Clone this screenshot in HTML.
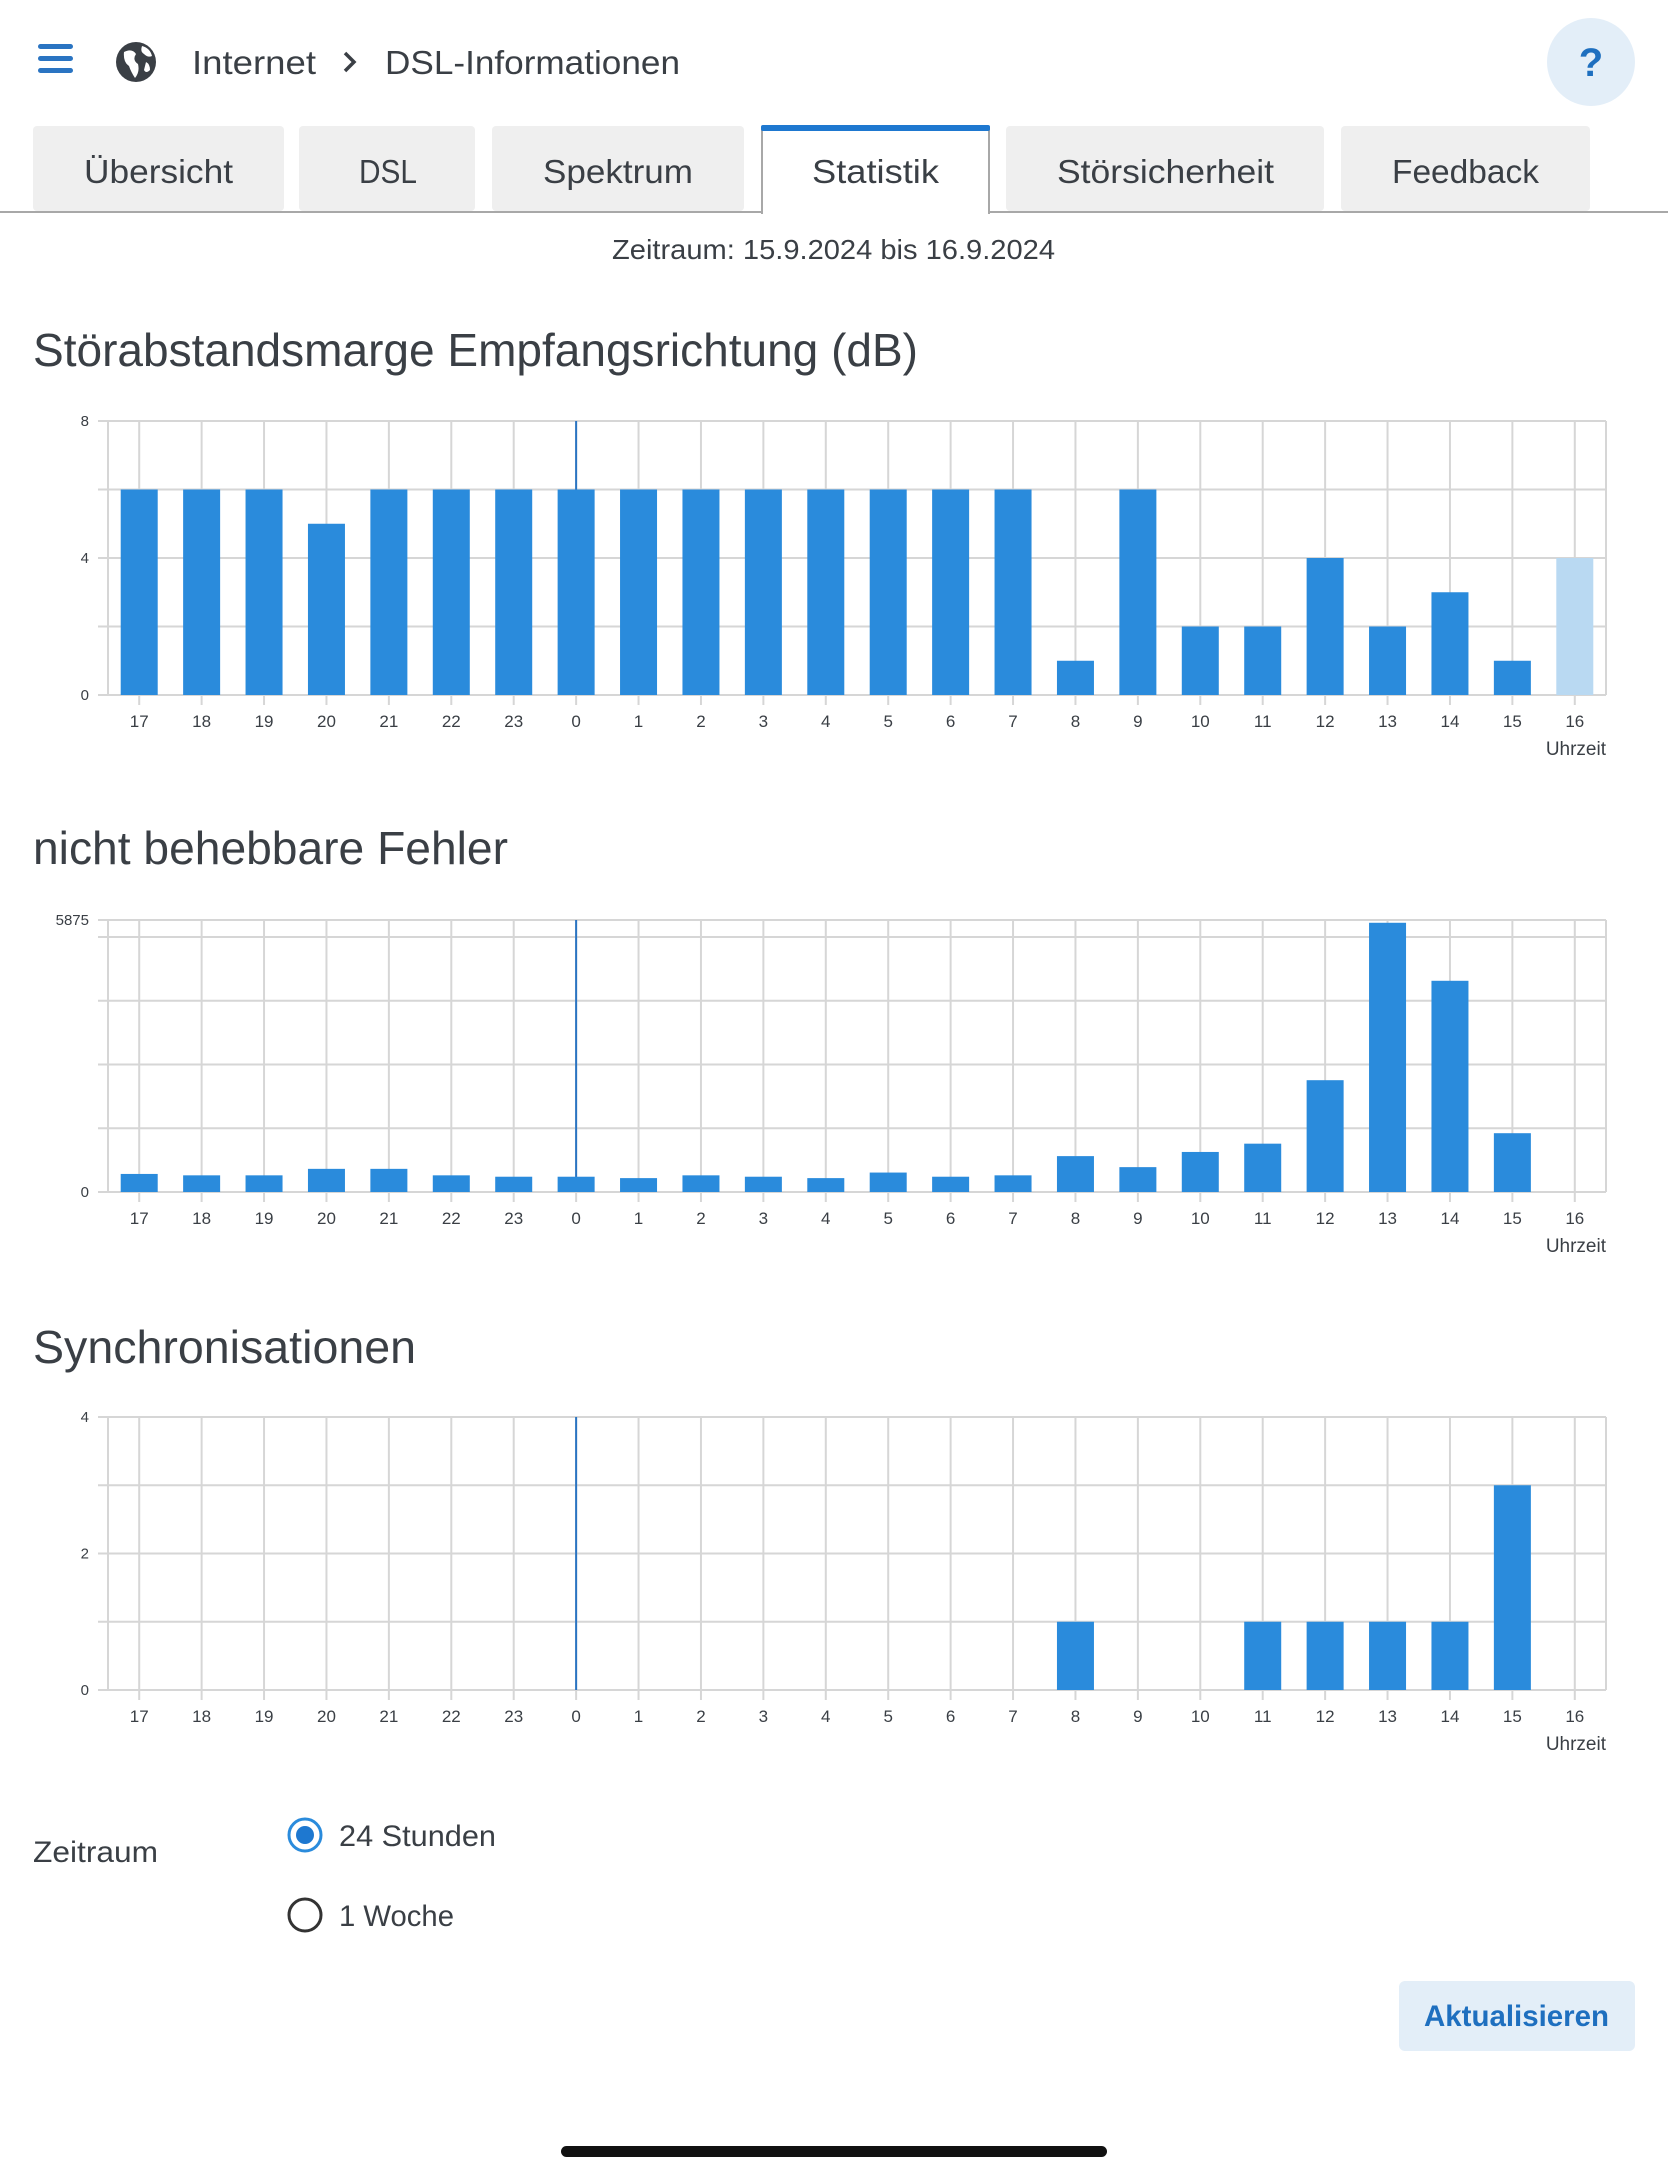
<!DOCTYPE html>
<html><head><meta charset="utf-8"><style>
html,body{margin:0;padding:0;background:#fff;}
svg{display:block;font-family:"Liberation Sans",sans-serif;}
</style></head><body>
<svg id="root" width="1668" height="2172" viewBox="0 0 1668 2172" xmlns="http://www.w3.org/2000/svg">
<g>
 <g fill="#2a74c2">
  <rect x="38" y="44" width="35" height="5" rx="2.5"/><rect x="38" y="56" width="35" height="5" rx="2.5"/><rect x="38" y="68" width="35" height="5" rx="2.5"/>
 </g>
 <g>
  <circle cx="136" cy="62" r="20" fill="#3a3f45"/>
  <path d="M124 52 q8 -4 12 2 q-4 6 2 10 q2 8 -3 14 q-4 -6 -6 -12 q-6 -4 -5 -14z M142 46 q8 2 10 10 q-4 2 -8 -2 q-4 -2 -2 -8z M146 62 q4 2 4 8 q-4 4 -6 0z" fill="#fff"/>
 </g>
 <text x="192" y="74" font-size="33" fill="#3a3f45" textLength="124" lengthAdjust="spacingAndGlyphs">Internet</text>
 <path d="M345 53 L354 62 L345 71" fill="none" stroke="#3a3f45" stroke-width="3.5"/>
 <text x="385" y="74" font-size="33" fill="#3a3f45" textLength="295" lengthAdjust="spacingAndGlyphs">DSL-Informationen</text>
 <g>
  <circle cx="1591" cy="62" r="44" fill="#e3eef8"/>
  <text x="1591" y="76" font-size="40" font-weight="bold" fill="#1e6fbf" text-anchor="middle">?</text>
 </g>
</g>
<g font-size="33" fill="#3a3f45">
 <rect x="0" y="211" width="1668" height="2" fill="#a8a8a8"/>
 <g><rect x="33" y="126" width="251" height="85" rx="4" fill="#efefef"/><text x="84" y="183" textLength="149" lengthAdjust="spacingAndGlyphs">Übersicht</text></g>
 <g><rect x="299" y="126" width="176" height="85" rx="4" fill="#efefef"/><text x="359" y="183" textLength="58" lengthAdjust="spacingAndGlyphs">DSL</text></g>
 <g><rect x="492" y="126" width="252" height="85" rx="4" fill="#efefef"/><text x="543" y="183" textLength="150" lengthAdjust="spacingAndGlyphs">Spektrum</text></g>
 <g><path d="M762 214 V128 H989 V214" fill="#fff" stroke="#a8a8a8" stroke-width="2"/><rect x="761" y="125" width="229" height="6" rx="2" fill="#1e78d0"/><text x="812" y="183" textLength="127" lengthAdjust="spacingAndGlyphs">Statistik</text></g>
 <g><rect x="1006" y="126" width="318" height="85" rx="4" fill="#efefef"/><text x="1057" y="183" textLength="217" lengthAdjust="spacingAndGlyphs">Störsicherheit</text></g>
 <g><rect x="1341" y="126" width="249" height="85" rx="4" fill="#efefef"/><text x="1392" y="183" textLength="147" lengthAdjust="spacingAndGlyphs">Feedback</text></g>
</g>
<text x="612" y="259" font-size="28" fill="#3a3f45" textLength="443" lengthAdjust="spacingAndGlyphs">Zeitraum: 15.9.2024 bis 16.9.2024</text>
<text x="33" y="366" font-size="46" fill="#3a3f45" textLength="885" lengthAdjust="spacingAndGlyphs">Störabstandsmarge Empfangsrichtung (dB)</text>
<text x="33" y="864" font-size="46" fill="#3a3f45" textLength="475" lengthAdjust="spacingAndGlyphs">nicht behebbare Fehler</text>
<text x="33" y="1363" font-size="46" fill="#3a3f45" textLength="383" lengthAdjust="spacingAndGlyphs">Synchronisationen</text>
<g id="charts"></g>
<g font-size="30" fill="#3a3f45">
 <text x="33" y="1862" textLength="125" lengthAdjust="spacingAndGlyphs">Zeitraum</text>
 <g>
  <circle cx="305" cy="1835" r="16" fill="#fff" stroke="#2a8bdc" stroke-width="3"/><circle cx="305" cy="1835" r="9" fill="#1e78d0"/>
  <text x="339" y="1846" textLength="157" lengthAdjust="spacingAndGlyphs">24 Stunden</text>
 </g>
 <g>
  <circle cx="305" cy="1915" r="16" fill="#fff" stroke="#333" stroke-width="3"/>
  <text x="339" y="1926" textLength="115" lengthAdjust="spacingAndGlyphs">1 Woche</text>
 </g>
</g>
<g>
 <rect x="1399" y="1981" width="236" height="70" rx="6" fill="#e3eef8"/>
 <text x="1424" y="2026" font-size="30" font-weight="bold" fill="#1e6fbf" textLength="185" lengthAdjust="spacingAndGlyphs">Aktualisieren</text>
</g>
<rect x="561" y="2146" width="546" height="11" rx="5.5" fill="#111"/>
</svg>
<script>
const categories = ["17","18","19","20","21","22","23","0","1","2","3","4","5","6","7","8","9","10","11","12","13","14","15","16"];
const snrValues = [6,6,6,5,6,6,6,6,6,6,6,6,6,6,6,1,6,2,2,4,2,3,1,4];
const snrTicks = [0,4,8];
const errorValues = [390,360,360,500,500,360,330,330,300,360,330,300,420,330,360,775,537,865,1044,2415,5815,4562,1270,0];
const errorTicks = [0,5875];
const syncValues = [0,0,0,0,0,0,0,0,0,0,0,0,0,0,0,1,0,0,1,1,1,1,3,0];
const syncTicks = [0,2,4];

const NS = "http://www.w3.org/2000/svg";
const charts = document.getElementById('charts');
function mk(tag, attrs, parent){const e=document.createElementNS(NS,tag);for(const k in attrs)e.setAttribute(k,attrs[k]);parent.appendChild(e);return e;}

function drawChart(name, values, ticks, max, gridStep, top, bottom, lastLight){
  const left=108, right=1606;
  const band=(right-left)/categories.length;
  const xc=i=>left+band*(i+0.5);
  const y=v=>bottom-(v/max)*(bottom-top);
  const g=mk('g',{},charts);
  
  
  for(let v=0; v<=max+1e-6; v+=gridStep){ mk('line',{x1:left-10,x2:right,y1:y(v),y2:y(v),stroke:'#d6d6d6','stroke-width':2},g); }
  mk('line',{x1:left-10,x2:right,y1:top,y2:top,stroke:'#d6d6d6','stroke-width':2},g);
  categories.forEach((c,i)=>{ mk('line',{x1:xc(i),x2:xc(i),y1:top,y2:bottom+10,stroke:'#d6d6d6','stroke-width':2},g); });
  mk('line',{x1:left,x2:left,y1:top,y2:bottom,stroke:'#d6d6d6','stroke-width':2},g);
  mk('line',{x1:right,x2:right,y1:top,y2:bottom,stroke:'#d6d6d6','stroke-width':2},g);
  const mid=categories.indexOf("0");
  mk('line',{x1:xc(mid),x2:xc(mid),y1:top,y2:bottom,stroke:'#2a74c2','stroke-width':2},g);
  values.forEach((v,i)=>{
    if(v<=0) return;
    const r=mk('rect',{x:xc(i)-18.5,y:y(v),width:37,height:bottom-y(v),fill:(lastLight&&i===values.length-1)?'#b9d9f2':'#2a8bdc'},g);
    
    
  });
  ticks.forEach(t=>{
    const tx=mk('text',{x:89,y:y(t)+5,'font-size':15,fill:'#3a3f45','text-anchor':'end'},g);
    tx.textContent=t;
    
    
  });
  categories.forEach((c,i)=>{
    const tx=mk('text',{x:xc(i),y:bottom+32,'font-size':17,fill:'#3a3f45','text-anchor':'middle'},g);
    tx.textContent=c;
    
    
  });
  const ut=mk('text',{x:right,y:bottom+60,'font-size':19,fill:'#3a3f45','text-anchor':'end'},g);
  ut.textContent='Uhrzeit';
  
  
}
drawChart('snr-chart', snrValues, snrTicks, 8, 2, 421, 695, true);
drawChart('errors-chart', errorValues, errorTicks, 5875, 1377, 920, 1192, false);
drawChart('sync-chart', syncValues, syncTicks, 4, 1, 1417, 1690, false);
</script>
</body></html>
